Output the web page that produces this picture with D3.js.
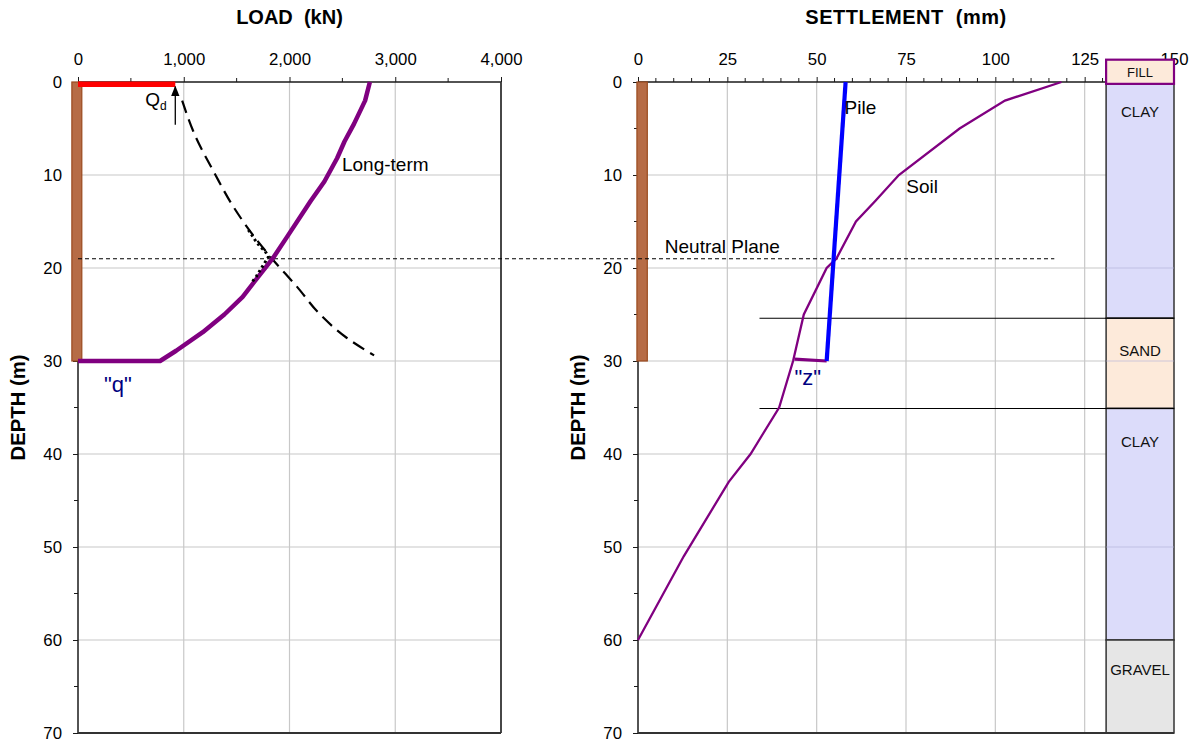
<!DOCTYPE html>
<html><head><meta charset="utf-8">
<script src="https://cdn.jsdelivr.net/npm/d3@7"></script>
<style>
body{margin:0;background:#fff;}
svg{display:block;font-family:"Liberation Sans",Arial,sans-serif;}
</style></head>
<body>
<svg id="c" width="1193" height="747"></svg>
<script>
// ---------- data ----------
const depthTicks = [0,10,20,30,40,50,60,70];
const depthMinor = [5,15,25,35,45,55,65];
const loadTicks = [0,1000,2000,3000,4000];
const loadMinor = [500,1500,2500,3500];
const settleTicks = [0,25,50,75,100,125,150];
const settleMinor = [5,10,15,20,30,35,40,45,55,60,65,70,80,85,90,95,105,110,115,120,130,135,140,145];

// long-term load distribution (purple)
const longTermDepth = [0,2,4.5,6.4,8.2,10.7,12.8,16.6,19,21,23.1,25,26.9,28.9,30,30];
const longTermLoad  = [2760,2715,2610,2520,2450,2330,2200,1980,1840,1700,1557,1384,1180,928,776,0];
// resistance curve (dashed)
const resistDepth = [2.0,5.3,10,13.3,16,19,22,25,27.5,29.4];
const resistLoad  = [985,1090,1300,1463,1625,1835,2070,2290,2540,2800];
// transition (dotted)
const transDepth = [15.9,17.0,17.7,18.2,18.8,20.0,20.9,21.6];
const transLoad  = [1611,1675,1722,1770,1801,1735,1687,1640];
// dead load
const Qd = 920;
const qdArrowDepth = [4.6,0.5];

// settlements
const soilDepth  = [0,2,5,10,12.8,15,19,20,25,30,35,40,43,51,60];
const soilSettle = [118.5,102.7,90,73,66.4,61,55.5,52.8,46.4,43.4,39.5,31.5,25.4,12.8,0];
const pileDepth  = [0,30];
const pileSettle = [58.1,52.8];
const toeDepth   = [30,29.8];
const toeSettle  = [52.8,43.8];

// pile (brown bar)
const pileTop = 0, pileToe = 30;
const pileLoadSpan = [-58,36];
const pileSettleSpan = [-0.3,2.6];

// neutral plane
const neutralDepth = 19;
const neutralEndSettle = 116.5;

// soil layers
const layerNames  = ["FILL","CLAY","SAND","CLAY","GRAVEL"];
const layerTops   = [-2.4,0.2,25.4,35.1,60];
const layerBottoms= [0.2,25.4,35.1,60,70];
const layerColors = ["#fdeada","#dcdcfa","#fdeada","#dcdcfa","#e6e6e6"];
const layerColumn = [131,150];
const sandLineDepths = [25.4,35.1];
const sandLineStart = 34;

// ---------- drawing ----------
const svg = d3.select("#c");
const y = d3.scaleLinear().domain([0,70]).range([82,733]);
const xL = d3.scaleLinear().domain([0,4000]).range([78,501]);
const xR = d3.scaleLinear().domain([0,150]).range([638,1174]);
const gridC = "#c8c8c8", axC = "#1a1a1a";
const tickFont = 16.8;

function panel(x, ticks){
  const g = svg.append("g");
  g.selectAll(".gv").data(ticks.slice(1,-1)).join("line")
    .attr("x1",d=>x(d)).attr("x2",d=>x(d)).attr("y1",y(0)).attr("y2",y(70))
    .attr("stroke",gridC).attr("stroke-width",1.2);
  g.selectAll(".gh").data(depthTicks.slice(1,-1)).join("line")
    .attr("x1",x.range()[0]).attr("x2",x.range()[1]).attr("y1",d=>y(d)).attr("y2",d=>y(d))
    .attr("stroke",gridC).attr("stroke-width",1.2);
  return g;
}
function axes(x, ticks, minor, fmt, rightBorder){
  const g = svg.append("g");
  const top = d3.axisTop(x).tickValues(ticks).tickFormat(fmt).tickSize(5).tickPadding(12);
  const ga = g.append("g").attr("transform",`translate(0,${y(0)})`).call(top);
  ga.select(".domain").attr("stroke",axC).attr("stroke-width",1.5).attr("d",`M${x.range()[0]},0H${x.range()[1]}`);
  ga.selectAll("text").attr("font-size",tickFont).attr("fill","#000").attr("font-family","Liberation Sans, Arial, sans-serif");
  ga.selectAll("line").attr("stroke",axC);
  g.selectAll(".mt").data(minor).join("line")
    .attr("x1",d=>x(d)).attr("x2",d=>x(d)).attr("y1",y(0)).attr("y2",y(0)-4).attr("stroke",axC);
  const left = d3.axisLeft(y).tickValues(depthTicks).tickFormat(d3.format("d")).tickSize(5).tickPadding(11);
  const gl = g.append("g").attr("transform",`translate(${x.range()[0]},0)`).call(left);
  gl.select(".domain").attr("stroke",axC).attr("stroke-width",1.5).attr("d",`M0,${y(0)}V${y(70)}`);
  gl.selectAll("text").attr("font-size",tickFont).attr("fill","#000").attr("font-family","Liberation Sans, Arial, sans-serif");
  gl.selectAll("line").attr("stroke",axC);
  g.selectAll(".ml").data(depthMinor).join("line")
    .attr("x1",x.range()[0]).attr("x2",x.range()[0]-4).attr("y1",d=>y(d)).attr("y2",d=>y(d)).attr("stroke",axC);
  g.append("line").attr("x1",x.range()[0]).attr("x2",x.range()[1]).attr("y1",y(70)).attr("y2",y(70))
    .attr("stroke","#333").attr("stroke-width",1.8);
  if(rightBorder) g.append("line").attr("x1",x.range()[1]).attr("x2",x.range()[1]).attr("y1",y(0)).attr("y2",y(70))
    .attr("stroke","#333").attr("stroke-width",1.8);
  return g;
}

panel(xL, loadTicks);
panel(xR, settleTicks);

// layer column
const labelOffsets = [0,28,33,33,30];
const layers = layerNames.map((n,i)=>({n,t:layerTops[i],b:layerBottoms[i],c:layerColors[i],o:labelOffsets[i]}));
const lg = svg.append("g");
lg.selectAll("rect").data(layers.slice(1)).join("rect")
  .attr("x",xR(layerColumn[0])).attr("width",xR(layerColumn[1])-xR(layerColumn[0]))
  .attr("y",d=>y(d.t)).attr("height",d=>y(d.b)-y(d.t))
  .attr("fill",d=>d.c).attr("stroke","#333").attr("stroke-width",1.5);
lg.selectAll(".cg").data([20,30,50]).join("line")
  .attr("x1",xR(layerColumn[0])).attr("x2",xR(layerColumn[1])).attr("y1",d=>y(d)).attr("y2",d=>y(d))
  .attr("stroke","#b0b0d8").attr("stroke-width",1).attr("opacity",0.6);

svg.selectAll(".sl").data(sandLineDepths).join("line")
  .attr("x1",xR(sandLineStart)).attr("x2",xR(layerColumn[1])).attr("y1",d=>y(d)).attr("y2",d=>y(d))
  .attr("stroke","#000").attr("stroke-width",1.1);

axes(xL, loadTicks, loadMinor, d3.format(","), true);
axes(xR, settleTicks, settleMinor, d3.format("d"), false);

const fill = layers[0];
svg.append("rect").attr("x",xR(layerColumn[0])).attr("width",xR(layerColumn[1])-xR(layerColumn[0]))
  .attr("y",y(fill.t)).attr("height",y(fill.b)-y(fill.t))
  .attr("fill",fill.c).attr("stroke","#800080").attr("stroke-width",2.2);
svg.selectAll(".ll").data(layers).join("text")
  .attr("x",xR((layerColumn[0]+layerColumn[1])/2))
  .attr("y",(d,i)=> i===0 ? (y(d.t)+y(d.b))/2 + 1 : y(d.t)+d.o)
  .attr("dy","0.35em").attr("text-anchor","middle")
  .attr("font-size",(d,i)=>i===0?13:15).attr("fill","#111").text(d=>d.n);

// titles
svg.append("text").attr("x",(xL.range()[0]+xL.range()[1])/2).attr("y",23.5).attr("text-anchor","middle")
  .attr("font-size",20).attr("font-weight","bold").style("white-space","pre").text("LOAD  (kN)");
svg.append("text").attr("x",(xR.range()[0]+xR.range()[1])/2).attr("y",23.5).attr("text-anchor","middle")
  .attr("font-size",20).attr("font-weight","bold").attr("letter-spacing",0.5).style("white-space","pre").text("SETTLEMENT  (mm)");
[25,585].forEach(bx=>{
  svg.append("text").attr("transform",`translate(${bx},${(y(0)+y(70))/2}) rotate(-90)`)
    .attr("text-anchor","middle").attr("font-size",20.3).attr("font-weight","bold").text("DEPTH (m)");
});

// brown piles
svg.append("rect").attr("x",xL(pileLoadSpan[0])).attr("width",xL(pileLoadSpan[1])-xL(pileLoadSpan[0]))
  .attr("y",y(pileTop)).attr("height",y(pileToe)-y(pileTop))
  .attr("fill","#b66c46").attr("stroke","#9a4a1e").attr("stroke-width",1.2);
svg.append("rect").attr("x",xR(pileSettleSpan[0])).attr("width",xR(pileSettleSpan[1])-xR(pileSettleSpan[0]))
  .attr("y",y(pileTop)).attr("height",y(pileToe)-y(pileTop))
  .attr("fill","#b66c46").attr("stroke","#9a4a1e").attr("stroke-width",1.2);

// neutral plane
svg.append("line").attr("x1",xL(0)).attr("x2",xR(neutralEndSettle)).attr("y1",y(neutralDepth)).attr("y2",y(neutralDepth))
  .attr("stroke","#000").attr("stroke-width",1.1).attr("stroke-dasharray","4,3");

const lineL = d3.line().x(d=>xL(d[0])).y(d=>y(d[1]));
const curveL = d3.line().x(d=>xL(d[0])).y(d=>y(d[1])).curve(d3.curveMonotoneY);
const lineR = d3.line().x(d=>xR(d[0])).y(d=>y(d[1]));
const zip = (a,b)=>a.map((v,i)=>[v,b[i]]);

svg.append("path").attr("d",lineL([[0,0.25],[Qd,0.25]])).attr("stroke","#ff0000").attr("stroke-width",5.5).attr("fill","none");
svg.append("path").attr("d",curveL(zip(resistLoad,resistDepth)))
  .attr("stroke","#000").attr("stroke-width",2.2).attr("fill","none").attr("stroke-dasharray","13,7");
svg.append("path").attr("d",lineL(zip(longTermLoad,longTermDepth)))
  .attr("stroke","#800080").attr("stroke-width",4.5).attr("fill","none").attr("stroke-linejoin","round");
svg.append("path").attr("d",lineL(zip(transLoad,transDepth)))
  .attr("stroke","#000").attr("stroke-width",3).attr("fill","none").attr("stroke-dasharray","2.5,3");
svg.append("defs").append("marker").attr("id","ah").attr("viewBox","0 0 10 10").attr("refX",9).attr("refY",5)
  .attr("markerWidth",8).attr("markerHeight",8).attr("orient","auto")
  .append("path").attr("d","M0,1L10,5L0,9z").attr("fill","#000");
svg.append("path").attr("d",lineL([[Qd,qdArrowDepth[0]],[Qd,qdArrowDepth[1]]]))
  .attr("stroke","#000").attr("stroke-width",1.3).attr("marker-end","url(#ah)");
const qt = svg.append("text").attr("x",xL(Qd)-30).attr("y",y(2.6)).attr("font-size",19).attr("fill","#000");
qt.append("tspan").text("Q");
qt.append("tspan").attr("font-size",12).attr("dy",4).text("d");

svg.append("text").attr("x",xL(2496)).attr("y",y(8.9)).attr("dy","0.35em").attr("font-size",19).text("Long-term");
svg.append("text").attr("x",xL(378)).attr("y",y(32.5)).attr("dy","0.35em").attr("text-anchor","middle")
  .attr("font-size",22).attr("fill","#000080").text('"q"');

svg.append("path").attr("d",lineR(zip(soilSettle,soilDepth)))
  .attr("stroke","#800080").attr("stroke-width",2.3).attr("fill","none");
svg.append("path").attr("d",lineR(zip(toeSettle,toeDepth)))
  .attr("stroke","#800080").attr("stroke-width",3.2).attr("fill","none");
svg.append("path").attr("d",lineR(zip(pileSettle,pileDepth)))
  .attr("stroke","#0000ff").attr("stroke-width",4.2).attr("fill","none");

svg.append("text").attr("x",xR(57.8)).attr("y",y(2.7)).attr("dy","0.35em").attr("font-size",19).text("Pile");
svg.append("text").attr("x",xR(75.1)).attr("y",y(11.2)).attr("dy","0.35em").attr("font-size",19).text("Soil");
svg.append("text").attr("x",xR(7.5)).attr("y",y(17.7)).attr("dy","0.35em").attr("font-size",19).text("Neutral Plane");
svg.append("text").attr("x",xR(47.5)).attr("y",y(31.7)).attr("dy","0.35em").attr("text-anchor","middle")
  .attr("font-size",22).attr("fill","#000080").text('"z"');
</script>
</body></html>
